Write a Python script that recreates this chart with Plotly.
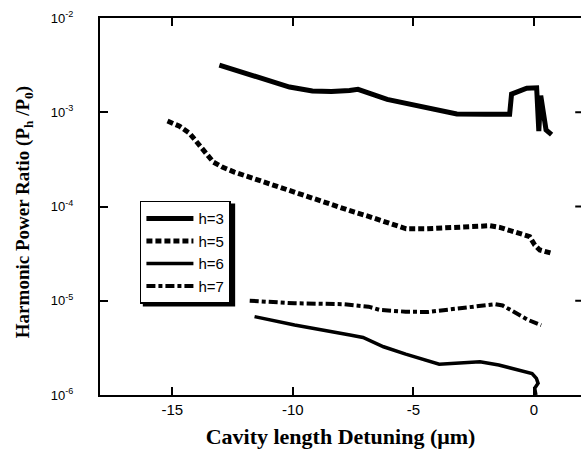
import plotly.graph_objects as go

# ---- data ----
h3_x = [-13.05, -12.0, -11.05, -10.14, -9.19, -8.4, -7.65, -7.3, -6.09, -4.55, -3.2, -2.0, -1.01, -0.93, -0.30, 0.11, 0.20, 0.28, 0.50, 0.73]
h3_y = [3.17e-3, 2.6e-3, 2.15e-3, 1.85e-3, 1.68e-3, 1.66e-3, 1.70e-3, 1.75e-3, 1.37e-3, 1.12e-3, 9.6e-4, 9.5e-4, 9.5e-4, 1.56e-3, 1.80e-3, 1.82e-3, 6.3e-4, 1.5e-3, 6.5e-4, 5.8e-4]

h5_x = [-15.2, -14.7, -14.29, -13.95, -13.59, -13.3, -12.93, -12.43, -11.68, -10.85, -10.14, -9.19, -8.36, -7.44, -6.86, -6.4, -5.3, -4.5, -3.63, -2.53, -1.84, -1.42, -0.87, -0.45, -0.18, 0.03, 0.24, 0.72]
h5_y = [8.07e-4, 7.1e-4, 6.0e-4, 4.7e-4, 3.8e-4, 2.96e-4, 2.62e-4, 2.32e-4, 2.0e-4, 1.69e-4, 1.46e-4, 1.23e-4, 1.04e-4, 8.7e-5, 7.85e-5, 7.2e-5, 5.8e-5, 5.8e-5, 5.9e-5, 6.0e-5, 6.25e-5, 6.0e-5, 5.4e-5, 5.1e-5, 4.8e-5, 3.9e-5, 3.46e-5, 3.2e-5]

h6_x = [-11.59, -9.93, -7.63, -7.09, -6.24, -5.32, -3.93, -2.24, -1.46, -0.87, -0.08, 0.10, 0.17, 0.03, 0.08]
h6_y = [6.78e-6, 5.53e-6, 4.34e-6, 4.08e-6, 3.25e-6, 2.71e-6, 2.12e-6, 2.25e-6, 2.08e-6, 1.92e-6, 1.69e-6, 1.5e-6, 1.33e-6, 1.18e-6, 1.0e-6]

h7_x = [-11.79, -9.93, -7.94, -6.86, -6.4, -5.32, -4.39, -3.01, -1.62, -1.3, -0.70, -0.24, 0.30]
h7_y = [1.0e-5, 9.4e-6, 9.2e-6, 8.65e-6, 8.0e-6, 7.65e-6, 7.6e-6, 8.3e-6, 9.2e-6, 8.9e-6, 7.3e-6, 6.25e-6, 5.5e-6]

x_ticks = [-15, -10, -5, 0]
y_ticks = [1e-6, 1e-5, 1e-4, 1e-3, 1e-2]
y_ticktext = ["10<sup>-6</sup>", "10<sup>-5</sup>", "10<sup>-4</sup>", "10<sup>-3</sup>", "10<sup>-2</sup>"]

fig = go.Figure()
fig.add_trace(go.Scatter(x=h3_x, y=h3_y, mode="lines", name="h=3",
                         line=dict(color="black", width=5)))
fig.add_trace(go.Scatter(x=h5_x, y=h5_y, mode="lines", name="h=5",
                         line=dict(color="black", width=5, dash="6px,3px")))
fig.add_trace(go.Scatter(x=h6_x, y=h6_y, mode="lines", name="h=6",
                         line=dict(color="black", width=3.5)))
fig.add_trace(go.Scatter(x=h7_x, y=h7_y, mode="lines", name="h=7",
                         line=dict(color="black", width=4, dash="9px,3px,4px,3px")))

sans = "Liberation Sans, Arial, sans-serif"
serif = "Liberation Serif, Times New Roman, serif"

# right-side inward ticks (the right axis line is cut off in the reference)
shapes = [dict(type="line", xref="paper", yref="y", x0=0.988, x1=1.0, y0=v, y1=v,
               line=dict(color="black", width=2)) for v in y_ticks[1:-1]]
# drop shadow of the legend box
shapes.append(dict(type="rect", xref="paper", yref="paper", layer="above",
                   x0=0.089, x1=0.281, y0=0.235, y1=0.508,
                   fillcolor="black", line=dict(width=0)))

fig.update_layout(
    width=581, height=456,
    margin=dict(l=100, r=0, t=18, b=61),
    paper_bgcolor="white", plot_bgcolor="white",
    showlegend=True,
    shapes=shapes,
    annotations=[dict(text="<b>Harmonic Power Ratio (P<sub>h</sub> /P<sub>0</sub>)</b>",
                      xref="paper", yref="paper", x=-0.158, y=0.485,
                      xanchor="center", yanchor="middle", textangle=-90, showarrow=False,
                      font=dict(family=serif, size=19, color="black"))],
    legend=dict(x=0.083, y=0.515, xanchor="left", yanchor="top",
                bgcolor="white", bordercolor="black", borderwidth=1.5,
                font=dict(family=sans, size=15, color="black"),
                itemwidth=47, tracegroupgap=0),
    xaxis=dict(range=[-18.0, 1.95], tickvals=x_ticks, ticktext=[str(v) for v in x_ticks],
               ticks="inside", ticklen=8, tickwidth=1.5, tickcolor="black",
               showline=True, linecolor="black", linewidth=2, mirror="ticks",
               showgrid=False, zeroline=False, tickfont=dict(family=sans, size=15, color="black"),
               title=dict(text="<b>Cavity length Detuning (μm)</b>",
                          font=dict(family=serif, size=22, color="black"), standoff=12)),
    yaxis=dict(type="log", range=[-6, -2], tickvals=y_ticks, ticktext=y_ticktext,
               ticks="inside", ticklen=8, tickwidth=1.5, tickcolor="black",
               showline=True, linecolor="black", linewidth=2,
               showgrid=False, zeroline=False, ticklabelstandoff=22,
               tickfont=dict(family=sans, size=13, color="black")),
)

fig.write_html("out.html", config={"displayModeBar": False},
               post_script="document.body.style.margin='0';document.body.style.overflow='hidden';")
